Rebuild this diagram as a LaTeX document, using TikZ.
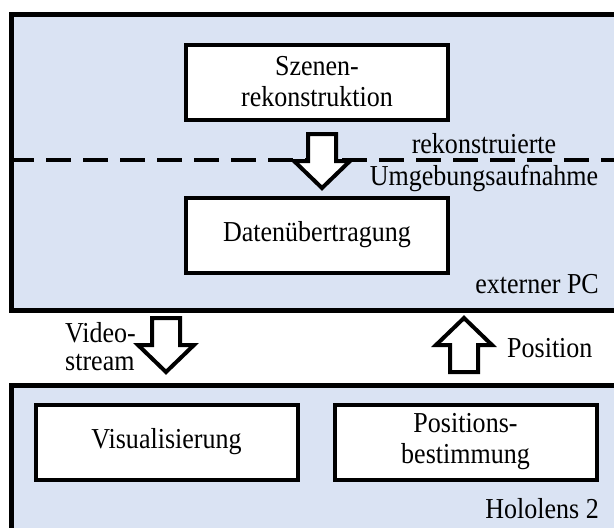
\documentclass[tikz,border=0pt]{standalone}
\usepackage{fontspec}
\setmainfont[FakeStretch=0.9]{Liberation Serif}
\usetikzlibrary{positioning}
\usetikzlibrary{calc}
\definecolor{panelblue}{HTML}{DAE3F3}
\tikzstyle{panel}=[draw=black, fill=panelblue, line width=5pt, anchor=north west, inner sep=0pt]
\tikzstyle{box}=[draw=black, fill=white, line width=4pt, minimum width=262pt, minimum height=75pt, align=center, inner sep=0pt, font=\fontsize{28.9}{31}\selectfont]
\tikzstyle{txt}=[font=\fontsize{28.9}{31}\selectfont, inner sep=0pt]
\tikzstyle{arrowline}=[draw=black, fill=white, line width=4pt, line join=miter]
\tikzset{blockarrow/.pic={\path[arrowline] (-14,0) -- (14,0) -- (14,27) -- (28,27) -- (0,54) -- (-28,27) -- (-14,27) -- cycle;}}

\begin{document}
\begin{tikzpicture}[x=1pt, y=-1pt]
\clip (0,0) rectangle (614,528);
\fill[white] (0,0) rectangle (614,528);

%externer PC
\node[panel, minimum width=631pt, minimum height=296.5pt] (pc) at (9,11.5) {};
\draw[line width=4.5pt, dash pattern=on 25pt off 12pt] (pc.west |- 0,160) -- (614,160);

%Hololens
\node[panel, minimum width=631pt, minimum height=180pt] (hl) at (9,383) {};

%Boxes
\foreach \pos/\name/\text in {{(317,82)/szenen/{Szenen-\\rekonstruktion}}, {(317,235)/daten/{Daten\"ubertragung}},
    {(166.5,442)/visual/{Visualisierung}}, {(465.5,442)/posbest/{Positions-\\bestimmung}}}
    \node[box] (\name) at \pos {\text};

%Arrows
\pic (pcarrow) at (322,134) {blockarrow};
\pic (videoarrow) at (166,318) {blockarrow};
\pic[rotate=180] (posarrow) at (464,372) {blockarrow};

%Labels
\node[txt, anchor=base] (rek) at (484,153) {rekonstruierte};
\node[txt, anchor=base] (umg) at (484,185) {Umgebungsaufnahme};
\node[txt, anchor=base east] (pclabel) at (599,293) {externer PC};
\node[txt, anchor=base east] (hllabel) at (599,518) {Hololens 2};
\node[txt, anchor=base west] (poslabel) at (507,357) {Position};
\node[txt, anchor=north west, align=left, font=\fontsize{28.9}{28}\selectfont] (video) at (65,322) {Video-\\stream};

\end{tikzpicture}
\end{document}
